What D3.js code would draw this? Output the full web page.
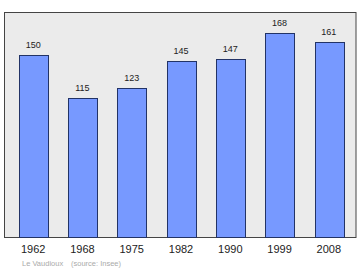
<!DOCTYPE html>
<html>
<head>
<meta charset="utf-8">
<script src="https://cdn.jsdelivr.net/npm/d3@7"></script>
<style>
  body { margin: 0; background: #fff; }
  text { font-family: "Liberation Sans", Arial, sans-serif; }
</style>
</head>
<body>
<div class="chart"></div>
<script>
// data
var years = ["1962", "1968", "1975", "1982", "1990", "1999", "2008"];
var population = [150, 115, 123, 145, 147, 168, 161];
var footerName = "Le Vaudioux";
var footerSource = "(source: Insee)";

var svgWidth = 360;
var svgHeight = 270;

var frame = { left: 4.5, top: 12.5, right: 356, bottom: 237.5 };

var svg = d3
  .select(".chart")
  .append("svg")
  .attr("width", svgWidth)
  .attr("height", svgHeight);

// plot background
svg
  .append("rect")
  .attr("x", frame.left)
  .attr("y", frame.top)
  .attr("width", frame.right - frame.left)
  .attr("height", frame.bottom - frame.top)
  .attr("fill", "#ebebeb")
  .attr("stroke", "#444")
  .attr("stroke-width", 1);

var xScale = d3
  .scaleBand()
  .domain(years)
  .range([8.5, 353.5])
  .paddingInner(0.42)
  .paddingOuter(0.21);

var yScale = d3.scaleLinear().domain([0, 185]).range([frame.bottom, frame.top]);

var data = years.map(function (y, i) {
  return { year: y, value: population[i] };
});

svg
  .selectAll(".bar")
  .data(data)
  .enter()
  .append("rect")
  .classed("bar", true)
  .attr("x", (d) => Math.round(xScale(d.year)) + 0.5)
  .attr("y", (d) => Math.round(yScale(d.value)) + 0.5)
  .attr("width", Math.round(xScale.bandwidth()))
  .attr("height", (d) => frame.bottom - Math.round(yScale(d.value)) - 0.5)
  .attr("fill", "#7799ff")
  .attr("stroke", "#223366")
  .attr("stroke-width", 1);

// value labels
svg
  .selectAll(".valueText")
  .data(data)
  .enter()
  .append("text")
  .classed("valueText", true)
  .attr("x", (d) => xScale(d.year) + xScale.bandwidth() / 2)
  .attr("y", (d) => yScale(d.value) - 7)
  .attr("text-anchor", "middle")
  .attr("font-size", "9px")
  .attr("fill", "#222")
  .text((d) => d.value);

// x axis labels
var xAxis = svg
  .append("g")
  .attr("transform", `translate(0, ${frame.bottom})`)
  .call(d3.axisBottom(xScale).tickSize(0).tickPadding(8));

xAxis.select(".domain").remove();
xAxis
  .selectAll("text")
  .attr("font-size", "11px")
  .attr("font-family", "Liberation Sans, Arial, sans-serif")
  .attr("fill", "#222");

// footer
svg
  .append("text")
  .attr("x", 22)
  .attr("y", 265.5)
  .attr("font-size", "7.5px")
  .attr("fill", "#aaa")
  .text(footerName);

svg
  .append("text")
  .attr("x", 71)
  .attr("y", 265.5)
  .attr("font-size", "7.5px")
  .attr("fill", "#aaa")
  .text(footerSource);
</script>
</body>
</html>
